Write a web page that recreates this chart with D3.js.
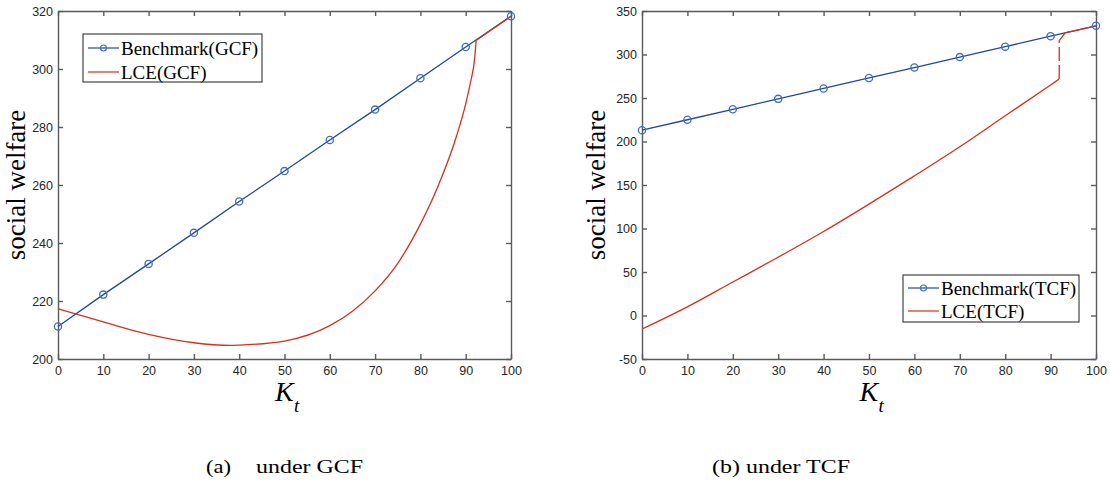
<!DOCTYPE html>
<html>
<head>
<meta charset="utf-8">
<script src="https://cdn.jsdelivr.net/npm/d3@7"></script>
<style>
  body { margin: 0; background: #fff; }
  svg { display: block; }
  .tick text { font-family: "Liberation Sans", Arial, sans-serif; font-size: 12.5px; fill: #262626; }
  .ser { font-family: "Liberation Serif", "Times New Roman", serif; fill: #000; }
</style>
</head>
<body>
<svg width="1110" height="484"></svg>
<script>
// K_t values where the benchmark markers sit
var kTicks = [0, 10, 20, 30, 40, 50, 60, 70, 80, 90, 100];

// panel (a): GCF
var gcfBench = [211.2, 222.2, 232.8, 243.5, 254.3, 264.8, 275.5, 286, 296.8, 307.6, 318.2];
var gcfLceK = [0, 10, 20, 30, 38, 40, 50, 60, 65, 70, 75, 80, 84, 88, 90, 91, 92, 92.3];
var gcfLceV = [217.3, 212.8, 208.5, 205.6, 204.7, 204.8, 206.2, 211.5, 216.5, 223.5, 233, 246.5, 260, 277, 288, 295, 304, 309.8];
var gcfTailK = [92.3, 100];
var gcfTailV = [309.8, 318.2];
var gcfYTicks = [200, 220, 240, 260, 280, 300, 320];

// panel (b): TCF
var tcfBench = [213, 225, 237, 249, 261, 273, 285, 297, 309, 321, 333];
var tcfLceK = [0, 10, 20, 30, 40, 50, 60, 70, 80, 90, 91.9];
var tcfLceV = [-15.5, 10, 38.5, 67, 96.5, 128, 160.5, 194, 229.5, 265, 271.8];
var tcfJumpK = [91.9, 91.9];
var tcfJumpV = [271.8, 316];
var tcfTailK = [91.9, 93.2, 100];
var tcfTailV = [316, 325, 333];
var tcfYTicks = [-50, 0, 50, 100, 150, 200, 250, 300, 350];

var blue = "#23479b";
var markBlue = "#3f6fbf";
var red = "#d2321f";
var axisCol = "#5a5a5a";

var svg = d3.select("svg");

function panel(p) {
  var x = d3.scaleLinear().domain([0, 100]).range([p.x0, p.x1]);
  var y = d3.scaleLinear().domain(p.yDomain).range([p.yBottom, p.yTop]);
  var g = svg.append("g");

  var plain = function (d) { return String(d); };

  // inward ticks on all four sides
  g.append("g").attr("transform", "translate(0," + p.yBottom + ")")
    .call(d3.axisBottom(x).tickValues(kTicks).tickFormat(plain).tickSizeInner(-5).tickSizeOuter(0).tickPadding(7));
  g.append("g").attr("transform", "translate(0," + p.yTop + ")")
    .call(d3.axisTop(x).tickValues(kTicks).tickSizeInner(-5).tickSizeOuter(0).tickFormat(""));
  g.append("g").attr("transform", "translate(" + p.x0 + ",0)")
    .call(d3.axisLeft(y).tickValues(p.yTicks).tickFormat(plain).tickSizeInner(-5).tickSizeOuter(0).tickPadding(5));
  g.append("g").attr("transform", "translate(" + p.x1 + ",0)")
    .call(d3.axisRight(y).tickValues(p.yTicks).tickSizeInner(-5).tickSizeOuter(0).tickFormat(""));
  g.selectAll(".domain, .tick line").attr("stroke", axisCol).attr("stroke-width", 1.4);

  var bench = kTicks.map(function (k, i) { return [k, p.bench[i]]; });

  var line = d3.line().x(function (d) { return x(d[0]); }).y(function (d) { return y(d[1]); });

  g.append("path").datum(bench).attr("d", line)
    .attr("fill", "none").attr("stroke", blue).attr("stroke-width", 1.3);

  p.redParts.forEach(function (part) {
    var pts = part.k.map(function (k, i) { return [k, part.v[i]]; });
    var ln = d3.line().x(function (d) { return x(d[0]); }).y(function (d) { return y(d[1]); })
      .curve(part.smooth ? d3.curveMonotoneX : d3.curveLinear);
    g.append("path").datum(pts).attr("d", ln)
      .attr("fill", "none").attr("stroke", red).attr("stroke-width", 1.3)
      .attr("stroke-dasharray", part.dash || null);
  });

  g.selectAll("circle.m").data(bench).enter().append("circle")
    .attr("class", "m")
    .attr("cx", function (d) { return x(d[0]); })
    .attr("cy", function (d) { return y(d[1]); })
    .attr("r", 3.6)
    .attr("fill", "none").attr("stroke", markBlue).attr("stroke-width", 1.3);

  // legend
  var L = p.legend;
  g.append("rect").attr("x", L.x).attr("y", L.y).attr("width", L.w).attr("height", L.h)
    .attr("fill", "#fff").attr("stroke", "#333").attr("stroke-width", 1.1);
  var rows = [{ t: L.labels[0], c: blue, m: true }, { t: L.labels[1], c: red, m: false }];
  rows.forEach(function (r, i) {
    var cy = L.y + L.rowY[i];
    g.append("line").attr("x1", L.x + 5).attr("x2", L.x + 36).attr("y1", cy).attr("y2", cy)
      .attr("stroke", r.c).attr("stroke-width", 1.2);
    if (r.m) {
      g.append("circle").attr("cx", L.x + 20.5).attr("cy", cy).attr("r", 3)
        .attr("fill", "none").attr("stroke", markBlue).attr("stroke-width", 1.2);
    }
    g.append("text").attr("class", "ser").attr("x", L.x + 38).attr("y", cy + 6.5)
      .attr("font-size", 19).text(r.t);
  });

  // axis titles
  g.append("text").attr("class", "ser")
    .attr("transform", "translate(" + p.yLabX + "," + (p.yTop + p.yBottom) / 2 + ") rotate(-90)")
    .attr("text-anchor", "middle").attr("font-size", 27).text("social welfare");

  var kx = (p.x0 + p.x1) / 2 - 9.5;
  g.append("text").attr("class", "ser").attr("x", kx).attr("y", 401)
    .attr("font-size", 28).attr("font-style", "italic").text("K");
  g.append("text").attr("class", "ser").attr("x", kx + 19).attr("y", 412)
    .attr("font-size", 19).attr("font-style", "italic").text("t");
}

panel({
  x0: 58, x1: 511, yTop: 11, yBottom: 359,
  yDomain: [200, 320], yTicks: gcfYTicks, bench: gcfBench,
  redParts: [{ k: gcfLceK, v: gcfLceV, smooth: true }, { k: gcfTailK, v: gcfTailV }],
  yLabX: 25,
  legend: { x: 83, y: 34, w: 179, h: 48, rowY: [14, 38], labels: ["Benchmark(GCF)", "LCE(GCF)"] }
});

panel({
  x0: 642, x1: 1096, yTop: 11, yBottom: 359,
  yDomain: [-50, 350], yTicks: tcfYTicks, bench: tcfBench,
  redParts: [
    { k: tcfLceK, v: tcfLceV, smooth: true },
    { k: tcfJumpK, v: tcfJumpV, dash: "14,4" },
    { k: tcfTailK, v: tcfTailV }
  ],
  yLabX: 605,
  legend: { x: 903, y: 275, w: 176, h: 47, rowY: [13, 36], labels: ["Benchmark(TCF)", "LCE(TCF)"] }
});

// captions
svg.append("text").attr("class", "ser").attr("x", 206).attr("y", 473).attr("font-size", 18)
  .attr("textLength", 25).attr("lengthAdjust", "spacingAndGlyphs").text("(a)");
svg.append("text").attr("class", "ser").attr("x", 256).attr("y", 473).attr("font-size", 18)
  .attr("textLength", 107).attr("lengthAdjust", "spacingAndGlyphs").text("under GCF");
svg.append("text").attr("class", "ser").attr("x", 712).attr("y", 473).attr("font-size", 18)
  .attr("textLength", 138).attr("lengthAdjust", "spacingAndGlyphs").text("(b) under TCF");
</script>
</body>
</html>
